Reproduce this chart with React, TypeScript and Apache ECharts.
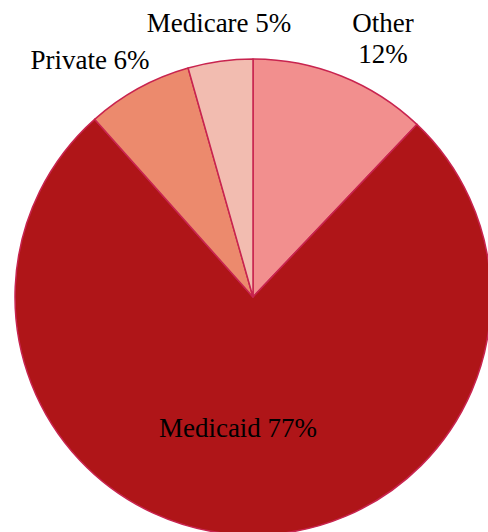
import React, { useEffect, useRef } from "react";
import * as echarts from "echarts";

const categories = ["Other", "Medicaid", "Private", "Medicare"];
const sliceValues = [12.1, 76.4, 7.2, 4.4];
const percentLabels = ["12%", "77%", "6%", "5%"];
const sliceColors = ["#F28F8E", "#AF1518", "#EC8A6D", "#F2BCB0"];

const FONT = "'Times New Roman', 'Liberation Serif', serif";

// label anchor points (text centres) in page pixels
const labelPos: Record<string, [number, number]> = {
  Other: [383, 38],
  Medicaid: [238, 428],
  Private: [90, 60],
  Medicare: [219, 23],
};

export default function App() {
  const ref = useRef<HTMLDivElement>(null);
  useEffect(() => {
    if (!ref.current) return;
    const chart = echarts.init(ref.current, undefined, { renderer: "svg" });
    chart.setOption({
      animation: false,
      backgroundColor: "#ffffff",
      textStyle: { fontFamily: FONT },
      series: [
        {
          type: "pie",
          center: [253, 297],
          radius: 238,
          startAngle: 90,
          clockwise: true,
          avoidLabelOverlap: false,
          data: categories.map((c, i) => ({
            name: c,
            value: sliceValues[i],
            itemStyle: { color: sliceColors[i] },
            label: {
              fontFamily: FONT,
              formatter:
                c === "Other"
                  ? `${c}\n${percentLabels[i]}`
                  : `${c} ${percentLabels[i]}`,
            },
          })),
          itemStyle: { borderColor: "#C8244F", borderWidth: 1.5 },
          label: {
            show: true,
            position: "outside",
            fontFamily: FONT,
            fontSize: 27,
            color: "#000000",
            lineHeight: 31,
            align: "center",
          },
          labelLine: { show: false },
          labelLayout: (params: any) => {
            const name = categories[params.dataIndex];
            const p = labelPos[name];
            return { x: p[0], y: p[1], align: "center", verticalAlign: "middle" };
          },
        },
      ],
    });
    return () => chart.dispose();
  }, []);
  return (
    <div
      ref={ref}
      style={{ position: "fixed", left: 0, top: 0, width: 488, height: 532 }}
    />
  );
}
